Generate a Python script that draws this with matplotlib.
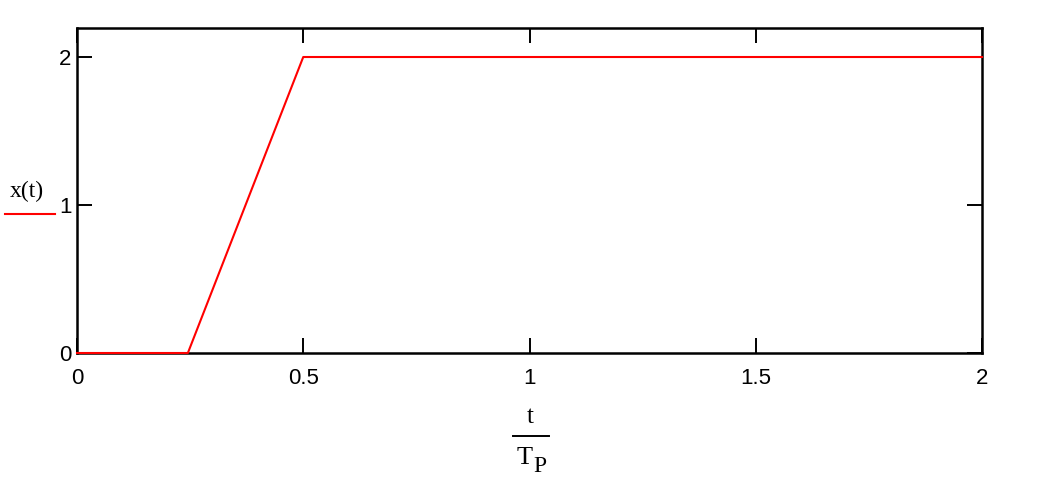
import matplotlib
matplotlib.use("Agg")
import matplotlib.pyplot as plt
from matplotlib.lines import Line2D

# data
t_over_tp = [0.0, 0.245, 0.5, 2.0]
x_t = [0.0, 0.0, 2.0, 2.0]
x_ticks = [0, 0.5, 1, 1.5, 2]
x_tick_labels = ["0", "0.5", "1", "1.5", "2"]
y_ticks = [0, 1, 2]
y_tick_labels = ["0", "1", "2"]

W, H = 1053, 495
fig = plt.figure(figsize=(W / 100, H / 100), dpi=100)
ax = fig.add_axes([77 / W, 1 - 353 / H, (982 - 77) / W, (353 - 28) / H])

ax.plot(t_over_tp, x_t, color="#ff0000", lw=1.5, clip_on=False, zorder=3)
ax.set_xlim(0, 2)
ax.set_ylim(0, 2.196)

ax.set_xticks(x_ticks)
ax.set_xticklabels(x_tick_labels)
ax.set_yticks(y_ticks)
ax.set_yticklabels(y_tick_labels)
ax.tick_params(direction="in", length=11, width=1.4, color="black",
               top=True, right=True, labelsize=16, labelcolor="black")
ax.tick_params(axis="x", pad=11)
ax.tick_params(axis="y", pad=4)
for lab in ax.get_xticklabels() + ax.get_yticklabels():
    lab.set_family("Liberation Sans")
for s in ax.spines.values():
    s.set_linewidth(1.8)
    s.set_color("black")

def px(x, y):
    return x / W, 1 - y / H

# y label: x(t) with red line
fig.text(*px(27, 191), "x(t)", family="Liberation Serif", fontsize=17,
         ha="center", va="center", color="black")
fig.add_artist(Line2D([5 / W, 55 / W], [1 - 214 / H, 1 - 214 / H],
                      color="#ff0000", lw=1.5, transform=fig.transFigure))

# x label: t / T_P
fig.text(*px(530, 417), "t", family="Liberation Serif", fontsize=18,
         ha="center", va="center", color="black")
fig.add_artist(Line2D([513 / W, 549 / W], [1 - 436 / H, 1 - 436 / H],
                      color="black", lw=1.4, transform=fig.transFigure))
fig.text(*px(525, 458), "T", family="Liberation Serif", fontsize=19,
         ha="center", va="center", color="black")
fig.text(*px(540, 466), "P", family="Liberation Serif", fontsize=17,
         ha="center", va="center", color="black")

fig.savefig("out.png", dpi=100)
